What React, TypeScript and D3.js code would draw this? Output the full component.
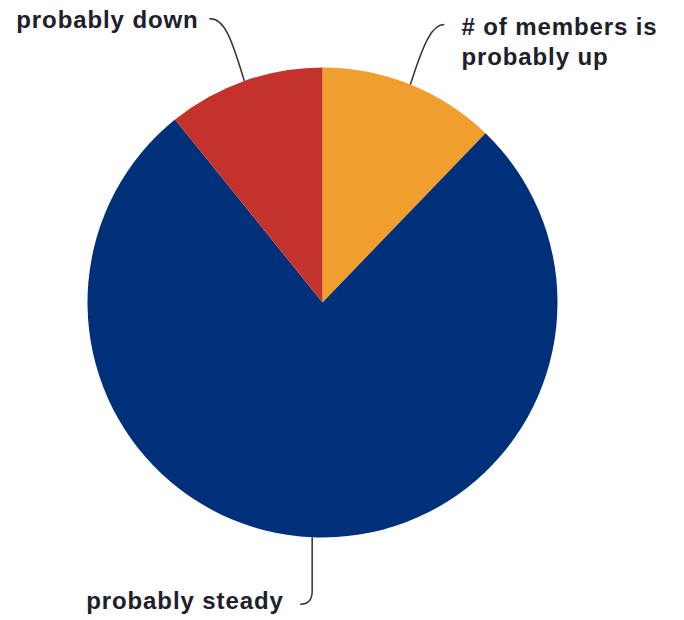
import React from "react";
import * as d3 from "d3";

const categories = ["# of members is probably up", "probably steady", "probably down"];
const values = [12.2, 77.0, 10.8];
const colors = ["#F09E2E", "#00307A", "#C4332B"];
const labelLines = [["# of members is", "probably up"], ["probably steady"], ["probably down"]];

const W = 684;
const H = 620;
const cx = 322.5;
const cy = 302.5;
const R = 235;

export default function App() {
  const pie = d3.pie<number>().sort(null).value((d) => d);
  const arcs = pie(values);
  const arc = d3.arc<d3.PieArcDatum<number>>().innerRadius(0).outerRadius(R);

  const anchor = (a: d3.PieArcDatum<number>) => {
    const m = (a.startAngle + a.endAngle) / 2;
    return [Math.sin(m) * R, -Math.cos(m) * R];
  };

  const [ux, uy] = anchor(arcs[0]);
  const [sx, sy] = anchor(arcs[1]);
  const [dx, dy] = anchor(arcs[2]);

  const font = {
    fontFamily: "'Liberation Sans', Arial, sans-serif",
    fontWeight: 700,
    fontSize: 24,
    letterSpacing: 0.9,
    fill: "#20202a",
  } as const;

  return (
    <svg width={W} height={H} style={{ position: "absolute", left: 0, top: 0, background: "#fff" }}>
      <g transform={`translate(${cx},${cy})`}>
        {arcs.map((a, i) => (
          <path key={categories[i]} d={arc(a) || ""} fill={colors[i]} />
        ))}
        {/* leader: up */}
        <path
          d={`M${ux},${uy} C${ux + 14},${uy - 44} ${ux + 22},${uy - 60} ${ux + 34},${uy - 60}`}
          fill="none"
          stroke="#333"
          strokeWidth={1.5}
        />
        {/* leader: down */}
        <path
          d={`M${dx},${dy} C${dx - 12},${dy - 40} ${dx - 20},${dy - 64} ${dx - 35},${dy - 62}`}
          fill="none"
          stroke="#333"
          strokeWidth={1.5}
        />
        {/* leader: steady */}
        <path
          d={`M${sx},${sy} L${sx},${sy + 54} C${sx},${sy + 63} ${sx - 4},${sy + 67} ${sx - 12},${sy + 67}`}
          fill="none"
          stroke="#333"
          strokeWidth={1.5}
        />
        <text x={ux + 51} y={uy - 50} {...font}>
          <tspan x={ux + 51} dy={0}>{labelLines[0][0]}</tspan>
          <tspan x={ux + 51} dy={30.5}>{labelLines[0][1]}</tspan>
        </text>
        <text x={sx - 226} y={sy + 72} {...font}>
          {labelLines[1][0]}
        </text>
        <text x={dx - 228} y={dy - 53} {...font}>
          {labelLines[2][0]}
        </text>
      </g>
    </svg>
  );
}
